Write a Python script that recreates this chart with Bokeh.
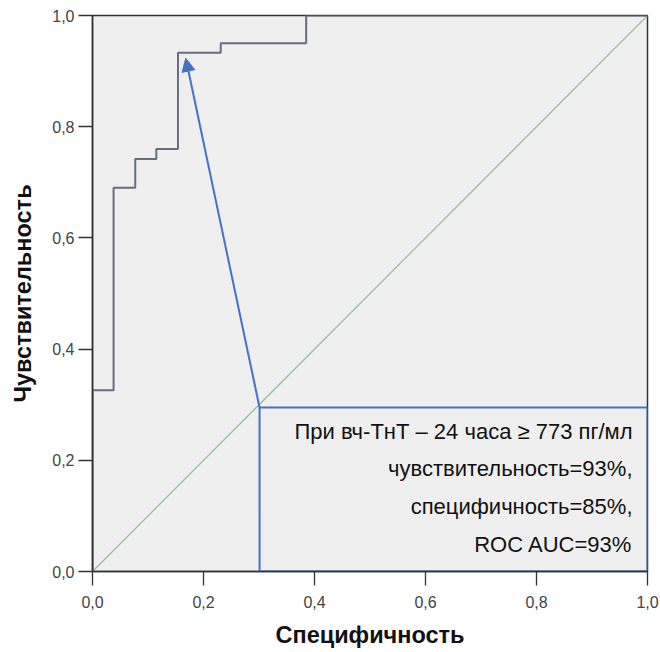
from bokeh.plotting import figure
from bokeh.models import Range1d, FixedTicker, CustomJSTickFormatter, Arrow, NormalHead, ColumnDataSource
from bokeh.core.properties import value
from bokeh.embed import file_html
from bokeh.resources import INLINE

# ROC curve points (1 - specificity on x, sensitivity on y)
roc_x = [0.0, 0.0, 0.038, 0.077, 0.115, 0.154, 0.231, 0.385, 1.0]
roc_y = [0.0, 0.326, 0.69, 0.742, 0.76, 0.933, 0.95, 1.0, 1.0]

ticks = [0.0, 0.2, 0.4, 0.6, 0.8, 1.0]

# cut-off point annotation
cut_x = 0.168
cut_y = 0.923
box_left, box_right, box_bottom, box_top = 0.301, 1.0, 0.0, 0.295
note_lines = [
    "При вч-ТнТ – 24 часа ≥ 773 пг/мл",
    "чувствительность=93%,",
    "специфичность=85%,",
    "ROC AUC=93%",
]
note_y = [0.251, 0.186, 0.117, 0.048]
note_x = [0.973] * 4

p = figure(width=660, height=652, output_backend="svg", toolbar_location=None,
           x_range=Range1d(0, 1), y_range=Range1d(0, 1),
           min_border_left=92, min_border_right=13, min_border_top=15, min_border_bottom=81)
p.background_fill_color = "#efefef"
p.border_fill_color = "white"
p.outline_line_color = "#333333"
p.outline_line_width = 1.5
p.xgrid.visible = False
p.ygrid.visible = False

fmt = CustomJSTickFormatter(code="return tick.toFixed(1).replace('.', ',');")
for ax in (p.xaxis[0], p.yaxis[0]):
    ax.ticker = FixedTicker(ticks=ticks)
    ax.formatter = fmt
    ax.minor_tick_line_color = None
    ax.major_tick_in = 0
    ax.major_tick_out = 14
    ax.axis_line_color = "#333333"
    ax.axis_line_width = 1.5
    ax.major_tick_line_color = "#333333"
    ax.major_tick_line_width = 1.3
    ax.major_label_text_font = "Liberation Sans"
    ax.major_label_text_font_size = "16px"
    ax.major_label_text_color = "#444444"
    ax.axis_label_text_font = "Liberation Sans"
    ax.axis_label_text_font_size = "23.5px"
    ax.axis_label_text_font_style = "bold"
    ax.axis_label_text_color = "#111111"

p.xaxis.axis_label = "Специфичность"
p.yaxis.axis_label = "Чувствительность"
p.xaxis.major_label_standoff = 10
p.xaxis.axis_label_standoff = 11
p.yaxis.major_label_standoff = 4
p.yaxis.axis_label_standoff = 13

# reference diagonal
p.line([0, 1], [0, 1], line_color="#94c494", line_width=1.3)

# ROC curve
p.step(roc_x, roc_y, mode="after", line_color="#666d80", line_width=2)

# annotation box
p.quad(left=[box_left], right=[box_right], bottom=[box_bottom], top=[box_top],
       fill_color=None, line_color="#4472c4", line_width=2)

src = ColumnDataSource(dict(x=note_x, y=note_y, t=note_lines))
p.text(x="x", y="y", text="t", source=src, text_align="right", text_baseline="middle",
       text_font=value("Liberation Sans"), text_font_size="22px", text_color="#111111")

p.add_layout(Arrow(end=NormalHead(size=13, fill_color="#4472c4", line_color="#4472c4"),
                   x_start=box_left, y_start=box_top, x_end=cut_x, y_end=cut_y,
                   line_color="#4472c4", line_width=2))

open("out.html", "w").write(file_html(p, INLINE))
